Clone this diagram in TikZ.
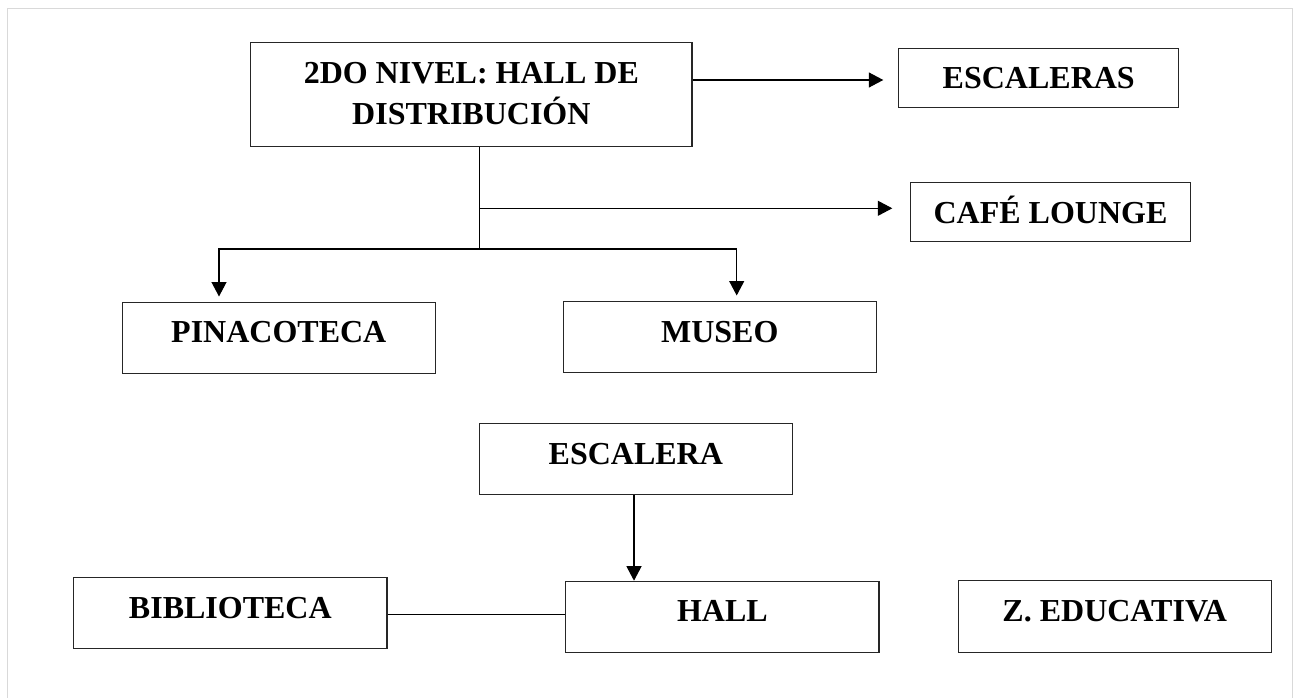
\documentclass[tikz,border=0pt]{standalone}
\usepackage{fontspec}
\setmainfont{Liberation Serif}
\usetikzlibrary{arrows.meta}
\begin{document}
\begin{tikzpicture}[x=1pt,y=-1pt,
  every node/.style={font=\fontsize{32}{40.7}\selectfont\bfseries},
  boxn/.style={draw=black!85,line width=1.1pt,inner sep=0pt,anchor=north,minimum width=#1},
  conn/.style={draw=black,line width=1.2pt},
  arr/.style={conn,-{Triangle[length=14.5pt,width=15pt]}}]
\useasboundingbox (0,0) rectangle (1298,698);
\draw[draw=black!15,line width=1pt] (7.5,698) |- (1292.7,9) -- (1292.7,698);

\node[boxn=441.3,text height=41.6pt,text depth=62.4pt] (top) at (471.35,41.7)
  {\vtop{\hbox to 0pt{\hss 2DO NIVEL: HALL DE\hss}\hbox to 0pt{\hss DISTRIBUCIÓN\hss}}};
\node[boxn=279.9,text height=40pt,text depth=19pt] (escs) at (1038.75,48.3) {ESCALERAS};
\node[boxn=279.6,text height=41pt,text depth=18.3pt] (cafe) at (1050.5,181.7) {CAFÉ LOUNGE};
\node[boxn=313,text height=39.4pt,text depth=31.3pt] (pina) at (278.8,302.3) {PINACOTECA};
\node[boxn=313,text height=41.3pt,text depth=30pt] (museo) at (719.8,301) {MUSEO};
\node[boxn=313,text height=41pt,text depth=30pt] (esca) at (635.8,423.3) {ESCALERA};
\node[boxn=313.3,text height=40.4pt,text depth=30.6pt] (biblio) at (230.35,577.3) {BIBLIOTECA};
\node[boxn=313.3,text height=40.3pt,text depth=31pt] (hall) at (722.35,580.7) {HALL};
\node[boxn=313,text height=40.7pt,text depth=31.3pt] (zedu) at (1114.8,580.3) {Z. EDUCATIVA};

\coordinate (t1) at (883.3,80);
\draw[arr] (top.east |- t1) -- (t1);
\coordinate (j) at (479.3,249);
\draw[conn] (top.south -| j) -- (j);
\coordinate (t2) at (892.3,208.3);
\draw[arr] (j |- t2) -- (t2);
\coordinate (pt) at (219,296.5);
\coordinate (mt) at (736.7,295.5);
\draw[arr] (j) -| (pt);
\draw[arr] (j) -| (mt);
\coordinate (hx) at (634,0);
\draw[arr] (esca.south -| hx) -- (hall.north -| hx);
\coordinate (bl) at (0,614.7);
\draw[conn] (biblio.east |- bl) -- (hall.west |- bl);
\end{tikzpicture}
\end{document}
